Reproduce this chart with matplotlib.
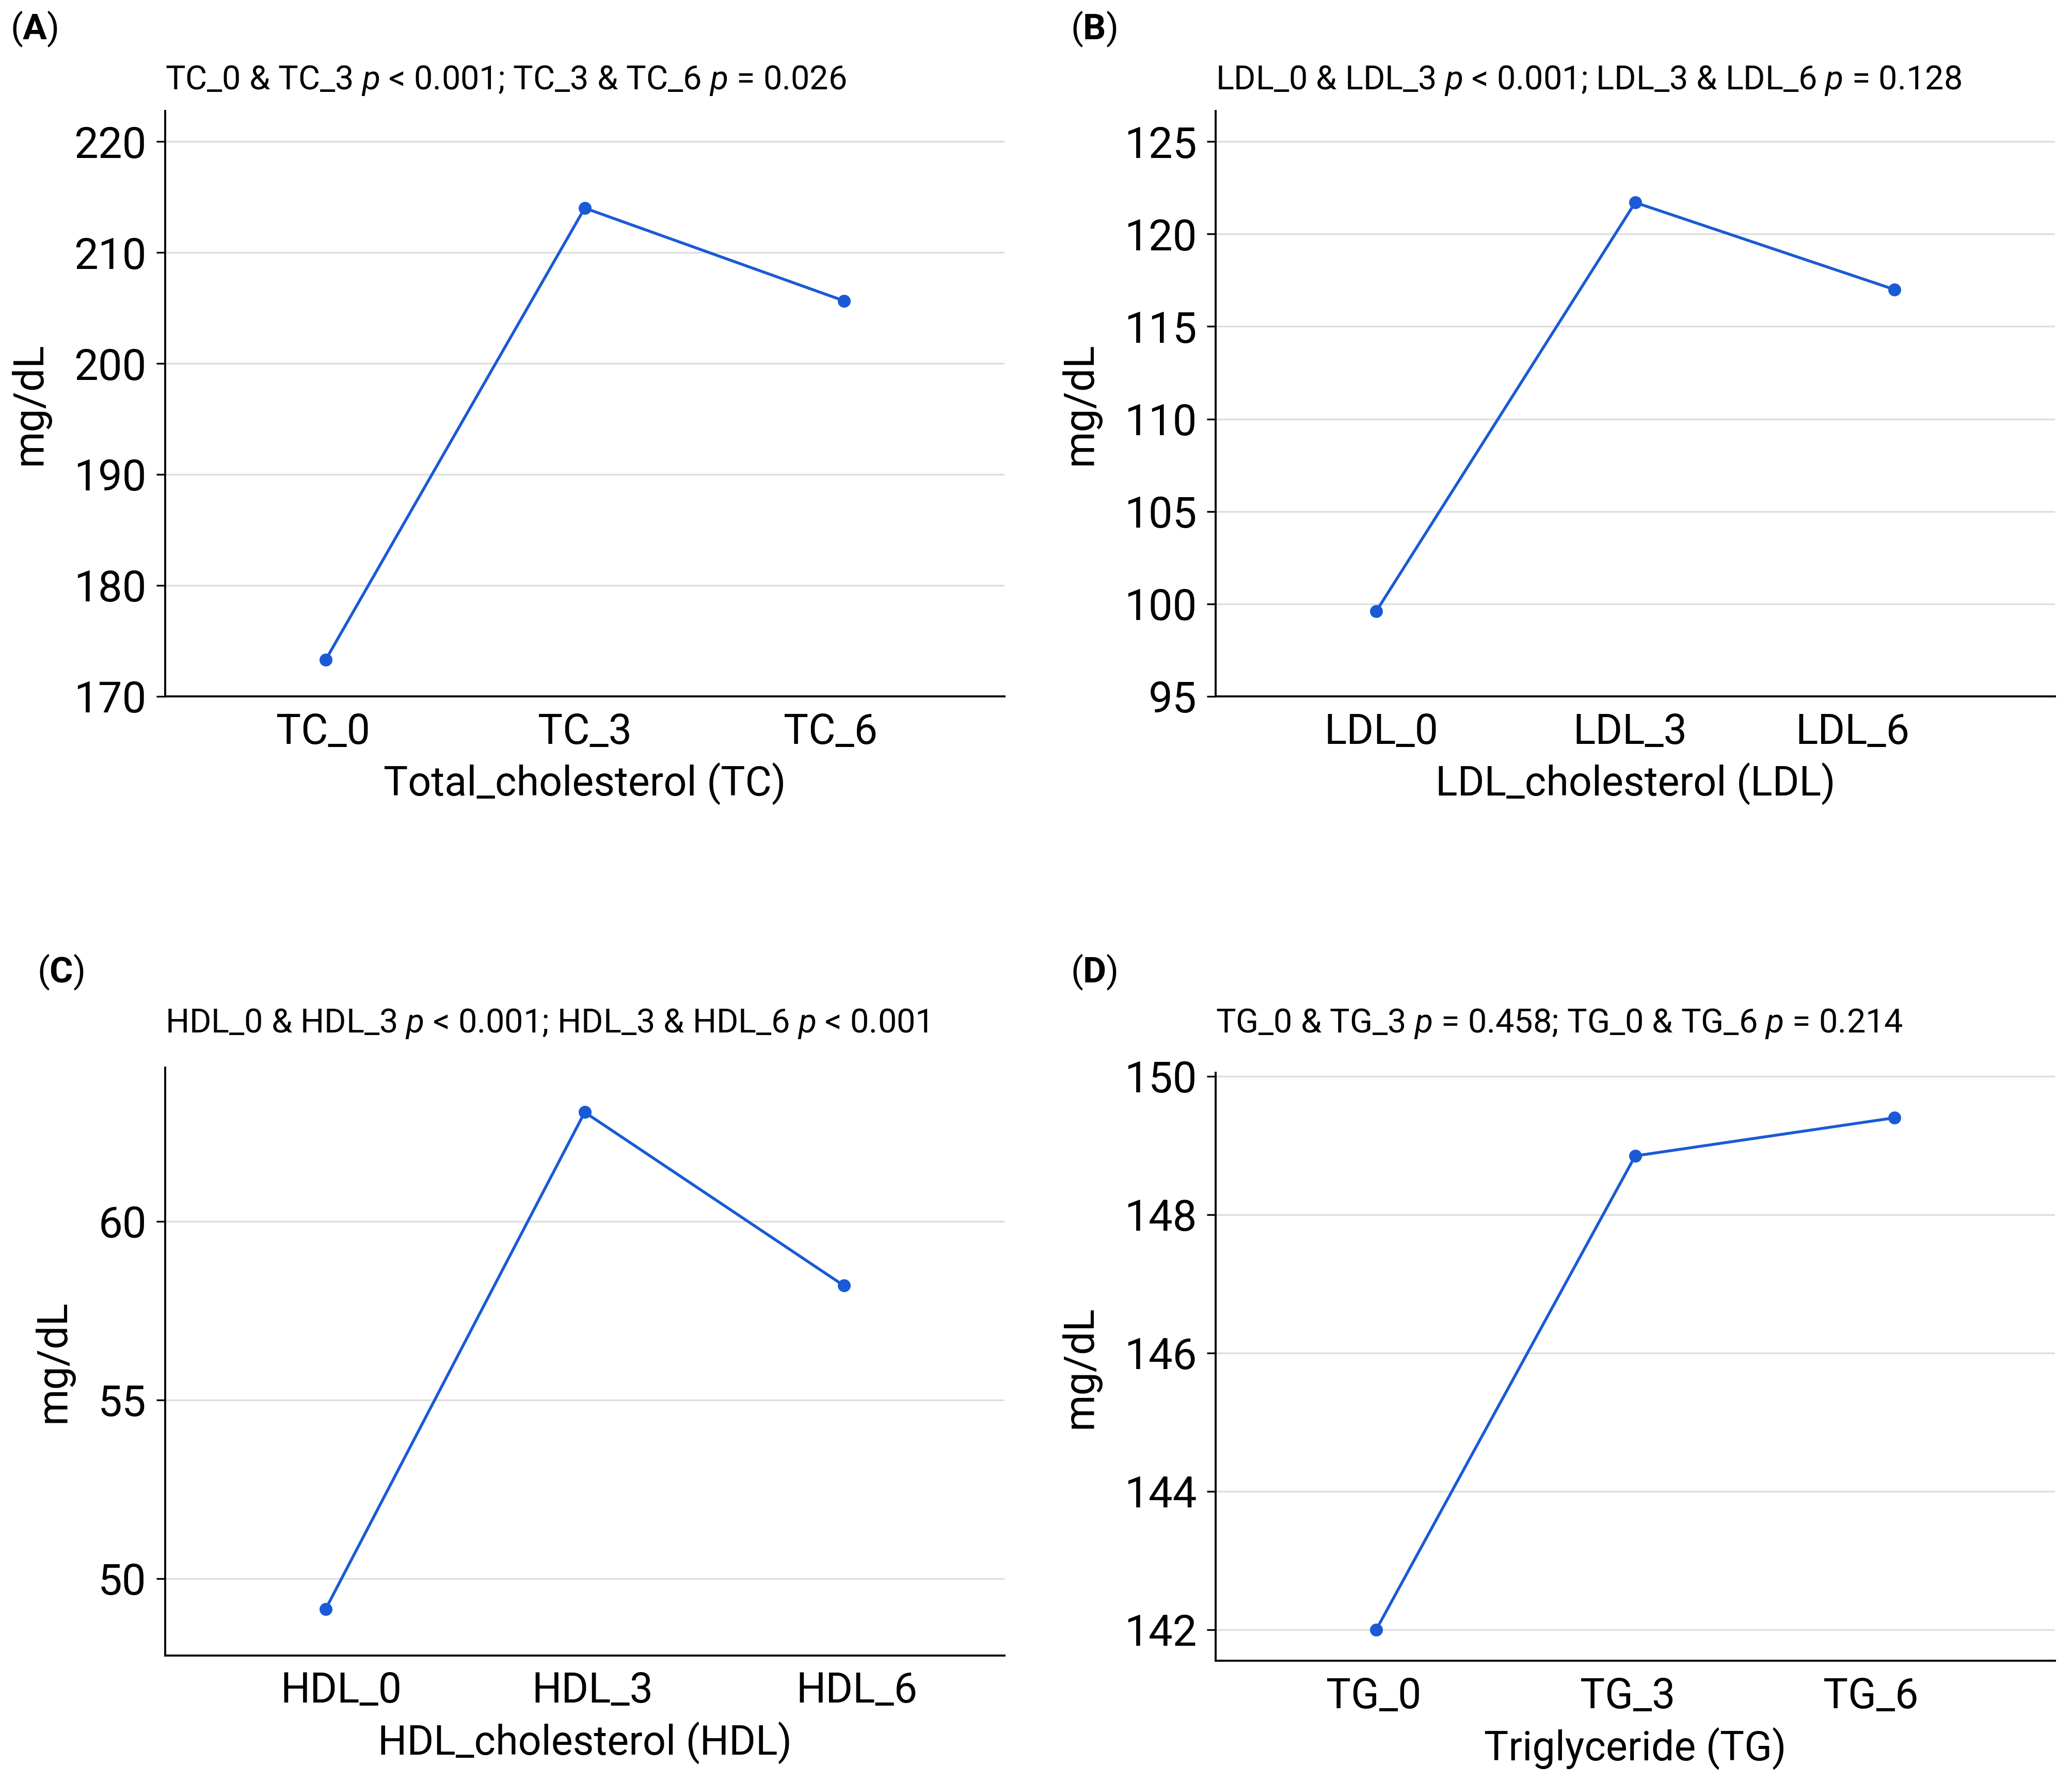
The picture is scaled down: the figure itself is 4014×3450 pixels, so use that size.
import matplotlib

matplotlib.use("Agg")
import matplotlib.pyplot as plt

# panel A: total cholesterol
tc_labels = ["TC_0", "TC_3", "TC_6"]
tc_values = [173.3, 214.0, 205.65]

# panel B: LDL cholesterol
ldl_labels = ["LDL_0", "LDL_3", "LDL_6"]
ldl_values = [99.6, 121.7, 117.0]

# panel C: HDL cholesterol
hdl_labels = ["HDL_0", "HDL_3", "HDL_6"]
hdl_values = [49.15, 63.05, 58.2]

# panel D: triglyceride
tg_labels = ["TG_0", "TG_3", "TG_6"]
tg_values = [142.0, 148.85, 149.4]

BLUE = "#1a5ad6"
GRID = "#dedede"

plt.rcParams["font.family"] = ["Roboto", "DejaVu Sans"]
plt.rcParams["mathtext.fontset"] = "custom"
plt.rcParams["mathtext.it"] = "Roboto:italic"
plt.rcParams["mathtext.rm"] = "Roboto"
plt.rcParams["mathtext.bf"] = "Roboto:bold"

fig = plt.figure(figsize=(20.07, 17.25), dpi=200)

panels = [
    # tag, axes rect, tag xy, labels, values, ylim, yticks, xlabel, subtitle, label nudge
    ("A", [0.0797, 0.609, 0.405, 0.3287], (0.005, 0.9837), tc_labels, tc_values,
     (170, 222.75), [170, 180, 190, 200, 210, 220], "Total_cholesterol (TC)",
     r"TC_0 & TC_3 $\it{p}$ < 0.001; TC_3 & TC_6 $\it{p}$ = 0.026",
     [-0.01, 0.0, -0.05]),
    ("B", [0.5867, 0.609, 0.405, 0.3287], (0.5166, 0.9837), ldl_labels, ldl_values,
     (95, 126.65), [95, 100, 105, 110, 115, 120, 125], "LDL_cholesterol (LDL)",
     r"LDL_0 & LDL_3 $\it{p}$ < 0.001; LDL_3 & LDL_6 $\it{p}$ = 0.128",
     [0.02, -0.02, -0.16]),
    ("C", [0.0797, 0.0705, 0.405, 0.3301], (0.0179, 0.454), hdl_labels, hdl_values,
     (47.85, 64.3), [50, 55, 60], "HDL_cholesterol (HDL)",
     r"HDL_0 & HDL_3 $\it{p}$ < 0.001; HDL_3 & HDL_6 $\it{p}$ < 0.001",
     [0.06, 0.03, 0.05]),
    ("D", [0.5867, 0.0675, 0.405, 0.3301], (0.5166, 0.454), tg_labels, tg_values,
     (141.55, 150.05), [142, 144, 146, 148, 150], "Triglyceride (TG)",
     r"TG_0 & TG_3 $\it{p}$ = 0.458; TG_0 & TG_6 $\it{p}$ = 0.214",
     [-0.01, -0.03, -0.09]),
]

for tag, rect, tag_xy, labels, values, ylim, yticks, xlabel, subtitle, nudge in panels:
    ax = fig.add_axes(rect)
    x = list(range(len(labels)))
    ax.plot(x, values, color=BLUE, lw=2.0, marker="o", ms=8, zorder=3)
    ax.set_xlim(-0.62, 2.62)
    ax.set_ylim(*ylim)
    # labels sit a bit off the points in the original
    ax.set_xticks([i + d for i, d in zip(x, nudge)])
    ax.set_xticklabels(labels)
    ax.set_yticks(yticks)
    ax.yaxis.grid(True, color=GRID, lw=1.2)
    ax.set_axisbelow(True)
    for side in ("top", "right"):
        ax.spines[side].set_visible(False)
    for side in ("left", "bottom"):
        ax.spines[side].set_linewidth(1.4)
    ax.tick_params(axis="x", length=0, pad=11, labelsize=29)
    ax.tick_params(axis="y", length=6, width=1.2, pad=7, labelsize=30)
    ax.set_xlabel(xlabel, fontsize=28.5, labelpad=7)
    ax.set_ylabel("mg/dL", fontsize=29, labelpad=17)

    y_sub = 0.9547 if tag in "AB" else 0.4251
    fig.text(rect[0], y_sub, subtitle, fontsize=23.3, ha="left", va="center")
    fig.text(tag_xy[0], tag_xy[1], rf"($\bf{{{tag}}}$)", fontsize=25,
             ha="left", va="center")

fig.savefig("out.png", dpi=200)
